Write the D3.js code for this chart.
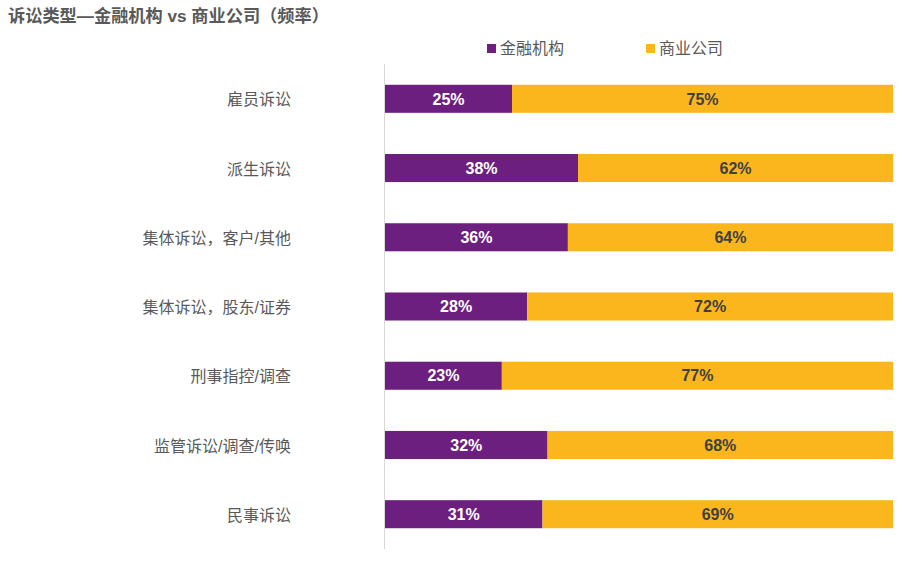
<!DOCTYPE html>
<html>
<head>
<meta charset="utf-8">
<script src="https://cdn.jsdelivr.net/npm/d3@7"></script>
<style>
  body { margin: 0; background: #fff; }
  svg text { font-family: "Liberation Sans", Arial, "Noto Sans CJK SC", sans-serif; }
</style>
</head>
<body>
<div id="chart"></div>
<script>
// data
var categories = ["雇员诉讼", "派生诉讼", "集体诉讼，客户/其他", "集体诉讼，股东/证券", "刑事指控/调查", "监管诉讼/调查/传唤", "民事诉讼"];
var financial = [25, 38, 36, 28, 23, 32, 31];
var commercial = [75, 62, 64, 72, 77, 68, 69];
var seriesNames = ["金融机构", "商业公司"];

var W = 923, H = 563;
var purple = "#6c1f7e", gold = "#fbb61e";

var svg = d3.select("#chart").append("svg")
  .attr("width", W).attr("height", H);

// title
svg.append("text")
  .attr("x", 8).attr("y", 22)
  .attr("fill", "#595959")
  .attr("font-size", 17.2).attr("font-weight", "bold")
  .text("诉讼类型—金融机构 vs 商业公司（频率）");

// scales
var x = d3.scaleLinear().domain([0, 100]).range([385, 893]);
var y = d3.scaleBand().domain(categories).range([64, 549]).paddingInner(0.595).paddingOuter(0.3);

// axis line
svg.append("line")
  .attr("x1", 384.5).attr("x2", 384.5)
  .attr("y1", 64).attr("y2", 549)
  .attr("stroke", "#d9d9d9").attr("stroke-width", 1);

// category labels
svg.selectAll(".cat")
  .data(categories)
  .enter().append("text")
  .attr("x", 291)
  .attr("y", function (d) { return y(d) + y.bandwidth() / 2 + 1; })
  .attr("dy", "0.35em")
  .attr("text-anchor", "end")
  .attr("fill", "#595959")
  .attr("font-size", 16)
  .text(function (d) { return d; });

var rows = categories.map(function (c, i) {
  return { cat: c, a: financial[i], b: commercial[i] };
});

var g = svg.selectAll(".row").data(rows).enter().append("g");

g.append("rect")
  .attr("x", x(0))
  .attr("y", function (d) { return y(d.cat); })
  .attr("width", function (d) { return x(d.a) - x(0); })
  .attr("height", y.bandwidth())
  .attr("fill", purple);

g.append("rect")
  .attr("x", function (d) { return x(d.a); })
  .attr("y", function (d) { return y(d.cat); })
  .attr("width", function (d) { return x(d.a + d.b) - x(d.a); })
  .attr("height", y.bandwidth())
  .attr("fill", gold);

g.append("text")
  .attr("x", function (d) { return (x(0) + x(d.a)) / 2; })
  .attr("y", function (d) { return y(d.cat) + y.bandwidth() / 2; })
  .attr("dy", "0.36em")
  .attr("text-anchor", "middle")
  .attr("fill", "#fff")
  .attr("font-size", 16).attr("font-weight", "bold")
  .text(function (d) { return d.a + "%"; });

g.append("text")
  .attr("x", function (d) { return (x(d.a) + x(d.a + d.b)) / 2; })
  .attr("y", function (d) { return y(d.cat) + y.bandwidth() / 2; })
  .attr("dy", "0.36em")
  .attr("text-anchor", "middle")
  .attr("fill", "#404040")
  .attr("font-size", 16).attr("font-weight", "bold")
  .text(function (d) { return d.b + "%"; });

// legend
var legendX = [487, 646];
var legend = svg.selectAll(".leg").data(seriesNames).enter().append("g")
  .attr("transform", function (d, i) { return "translate(" + legendX[i] + ",44)"; });
legend.append("rect")
  .attr("width", 9).attr("height", 9)
  .attr("fill", function (d, i) { return i === 0 ? purple : gold; });
legend.append("text")
  .attr("x", 13).attr("y", 4.5).attr("dy", "0.36em")
  .attr("fill", "#595959").attr("font-size", 16)
  .text(function (d) { return d; });
</script>
</body>
</html>
